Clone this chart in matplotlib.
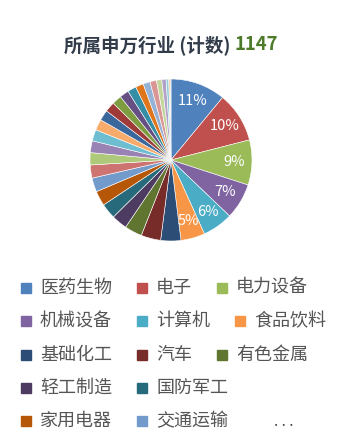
import matplotlib
matplotlib.use('Agg')
import matplotlib.pyplot as plt
from matplotlib.patches import Rectangle

plt.rcParams['font.family'] = ['Noto Sans CJK SC', 'DejaVu Sans']

industries = ['医药生物', '电子', '电力设备', '机械设备', '计算机', '食品饮料',
              '基础化工', '汽车', '有色金属', '轻工制造', '国防军工', '家用电器',
              '交通运输', '公用事业', '传媒', '通信', '环保', '建筑装饰',
              '纺织服饰', '商贸零售', '社会服务', '农林牧渔', '建筑材料', '房地产',
              '非银金融', '美容护理', '钢铁', '石油石化', '煤炭', '银行', '综合']
counts = [126, 115, 103, 82, 70, 55,
          46, 45, 40, 36, 35, 34,
          32, 30, 28, 27, 26, 25,
          24, 23, 22, 21, 20, 18,
          16, 15, 12, 10, 6, 3, 2]
colors = ['#4F81BD', '#C0504D', '#9BBB59', '#8064A2', '#4BACC6', '#F79646',
          '#2C4D75', '#772C2A', '#5F7530', '#4D3B62', '#276A7C', '#B65708',
          '#729ACA', '#CD7371', '#AFC97A', '#9983B5', '#6FBDD1', '#F9AB6B',
          '#3A679C', '#9E3A38', '#7E9D40', '#664F83', '#358EA6', '#E0761C',
          '#95B3D7', '#D99694', '#C3D69B', '#B3A2C7', '#93CDDD', '#FAC090', '#A5A5A5']
total = sum(counts)
legend_count = 13

W, H = 349, 447
fig = plt.figure(figsize=(W / 100, H / 100), dpi=100)
fig.patch.set_facecolor('white')


def fx(x):
    return x / W


def fy(y):
    return 1 - y / H


# pie
cx, cy, r = 171, 160, 81
ax = fig.add_axes([fx(cx - r), fy(cy + r), 2 * r / W, 2 * r / H])
ax.pie(counts, colors=colors, startangle=90, counterclock=False,
       autopct=lambda p: f'{p:.0f}%' if p >= 4.5 else '', pctdistance=0.78,
       wedgeprops=dict(edgecolor='white', linewidth=0.4),
       textprops=dict(color='white', fontsize=10.5))
ax.set_xlim(-1, 1)
ax.set_ylim(-1, 1)
ax.axis('off')

renderer = fig.canvas.get_renderer()

# title
t1 = fig.text(0, fy(45), '所属申万行业 (计数) ', fontsize=13.3, weight='bold',
              color='#323c4a', va='center')
t2 = fig.text(0, fy(45), str(total), fontsize=13.3, weight='bold',
              color='#4d7b2a', va='center')
w1 = t1.get_window_extent(renderer).width
w2 = t2.get_window_extent(renderer).width
x0 = cx - (w1 + w2) / 2
t1.set_x(fx(x0))
t2.set_x(fx(x0 + w1))

# legend (flow layout)
row_y = 288
step = 33.3
x = 21
max_x = 335
for name, col in zip(industries[:legend_count], colors[:legend_count]):
    t = fig.text(0, fy(row_y), name, fontsize=13, color='#555555', va='center')
    tw = t.get_window_extent(renderer).width
    if x + 19 + tw > max_x:
        row_y += step
        x = 21
        t.set_y(fy(row_y))
    fig.patches.append(Rectangle((fx(x), fy(row_y + 5)), 10 / W, 10 / H,
                                 transform=fig.transFigure, color=col))
    t.set_x(fx(x + 19))
    x = x + 19 + tw + 25
fig.text(fx(x + 21), fy(row_y), '. . .', fontsize=11, color='#444444', va='center')

fig.savefig('out.png', dpi=100, facecolor='white')
